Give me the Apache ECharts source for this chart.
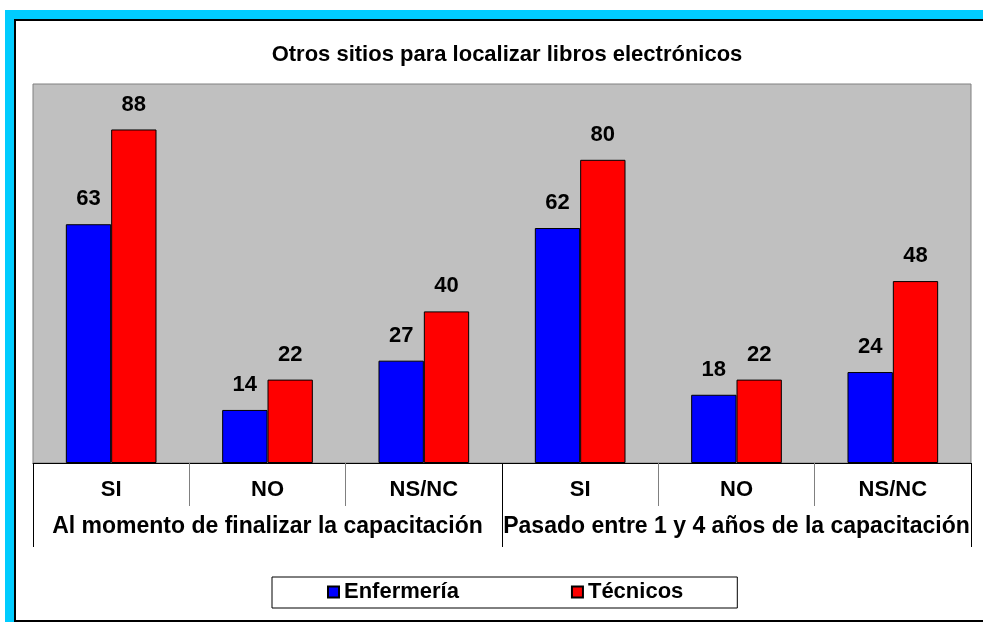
<!DOCTYPE html>
<html>
<head>
<meta charset="utf-8">
<script src="https://cdn.jsdelivr.net/npm/echarts@6/dist/echarts.min.js"></script>
<style>
  html, body { margin: 0; padding: 0; background: #fff; }
  #chart { width: 983px; height: 622px; }
</style>
</head>
<body>
<div id="chart"></div>
<script>
  // datos
  var categorias = ['SI', 'NO', 'NS/NC', 'SI', 'NO', 'NS/NC'];
  var grupos = ['Al momento de finalizar la capacitación', 'Pasado entre 1 y 4 años de la capacitación'];
  var enfermeria = [63, 14, 27, 62, 18, 24];
  var tecnicos = [88, 22, 40, 80, 22, 48];

  var fuente = '"Liberation Sans", Arial, sans-serif';

  var myChart = echarts.init(document.getElementById('chart'));
  var option = {
    backgroundColor: '#fff',
    animation: false,
    textStyle: { fontFamily: fuente },
    // marco cyan / negro
    graphic: [
      { type: 'rect', z: -20, silent: true, shape: { x: 5, y: 10, width: 990, height: 620 }, style: { fill: '#00ccff' } },
      { type: 'rect', z: -19, silent: true, shape: { x: 15, y: 20, width: 1000, height: 601 }, style: { fill: '#fff', stroke: '#000', lineWidth: 2 } }
    ],
    title: {
      text: 'Otros sitios para localizar libros electrónicos',
      left: 502, top: 39, textAlign: 'center',
      textStyle: { fontSize: 22, fontWeight: 'bold', color: '#000', fontFamily: fuente }
    },
    legend: {
      left: 272, top: 577,
      padding: [4, 54, 5, 55],
      itemGap: 112,
      itemWidth: 11, itemHeight: 11,
      icon: 'rect',
      borderColor: '#000', borderWidth: 1,
      backgroundColor: '#fff',
      textStyle: { fontSize: 22, fontWeight: 'bold', color: '#000', fontFamily: fuente }
    },
    grid: {
      left: 33, right: 12, top: 84, bottom: 159,
      show: true,
      backgroundColor: '#c0c0c0',
      borderColor: '#808080', borderWidth: 1
    },
    xAxis: [
      {
        type: 'category',
        data: categorias,
        axisLine: { show: true, lineStyle: { color: '#000', width: 1 } },
        axisTick: { show: true, interval: 0, length: 43, lineStyle: { color: '#808080' } },
        axisLabel: { interval: 0, margin: 16, fontSize: 22, fontWeight: 'bold', color: '#000', fontFamily: fuente }
      },
      {
        type: 'category',
        data: grupos,
        position: 'bottom',
        axisLine: { show: false },
        axisTick: { show: true, interval: 0, length: 84, lineStyle: { color: '#000' } },
        axisLabel: { interval: 0, margin: 52, fontSize: 23, fontWeight: 'bold', color: '#000', fontFamily: fuente }
      }
    ],
    yAxis: {
      type: 'value', min: 0, max: 100,
      axisLine: { show: false }, axisTick: { show: false },
      axisLabel: { show: false }, splitLine: { show: false }
    },
    series: [
      {
        name: 'Enfermería', type: 'bar', xAxisIndex: 0,
        data: enfermeria,
        barGap: '0%', barCategoryGap: '42%',
        itemStyle: { color: '#0000ff', borderColor: '#000', borderWidth: 1 },
        label: { show: true, position: 'top', distance: 14, fontSize: 22, fontWeight: 'bold', color: '#000', fontFamily: fuente }
      },
      {
        name: 'Técnicos', type: 'bar', xAxisIndex: 0,
        data: tecnicos,
        itemStyle: { color: '#ff0000', borderColor: '#000', borderWidth: 1 },
        label: { show: true, position: 'top', distance: 14, fontSize: 22, fontWeight: 'bold', color: '#000', fontFamily: fuente }
      }
    ]
  };
  myChart.setOption(option);
</script>
</body>
</html>
